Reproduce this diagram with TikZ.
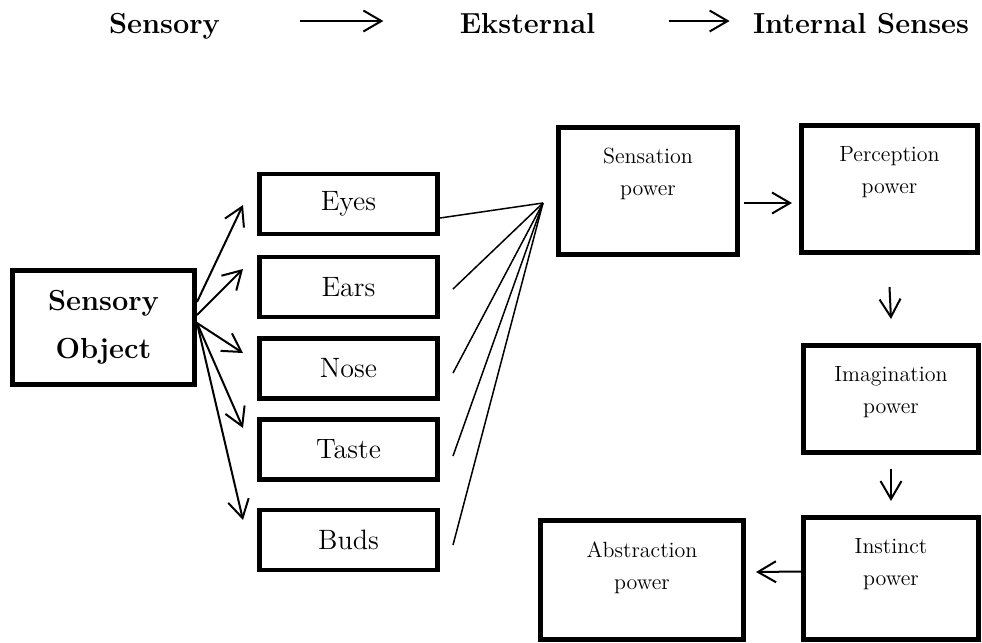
\documentclass[tikz,border=0pt]{standalone}
\usepackage{tikz}
\usetikzlibrary{arrows.meta,positioning}

\begin{document}
\begin{tikzpicture}[x=0.5pt, y=-0.5pt,
    hdr/.style={font=\fontsize{14.5}{17}\selectfont\bfseries, inner sep=0pt, anchor=base},
    objbox/.style={draw, line width=2.3pt, align=center, inner sep=0pt,
      font=\fontsize{14.5}{24}\selectfont\bfseries},
    sensebox/.style={draw, line width=2.3pt, inner sep=0pt, minimum width=89.2pt,
      minimum height=30pt, font=\fontsize{14}{17}\selectfont},
    powerbox/.style={draw, line width=2.3pt, inner sep=0pt},
    powertext/.style={align=center, inner sep=0pt, font=\fontsize{11}{16}\selectfont},
    arr/.style={line width=1pt, -{Straight Barb[length=9pt,width=10.5pt]}},
    fan/.style={line width=0.75pt},
  ]
    \useasboundingbox (0,0) rectangle (982,643);

    \node[hdr] (hsens) at (164.5,33) {Sensory};
    \node[hdr] (heks) at (527.5,33) {Eksternal};
    \node[hdr] (hint) at (861,33) {Internal Senses};
    \draw[arr] ([xshift=40pt,yshift=6pt]hsens.base east) -- ([xshift=-38pt,yshift=6pt]heks.base west);
    \draw[arr] ([xshift=36.5pt,yshift=6pt]heks.base east) -- ([xshift=-11.5pt,yshift=6pt]hint.base west);

    \node[objbox, minimum width=91.2pt, minimum height=57.2pt] (obj) at (103.5,327.5) {Sensory\\Object};

    \node[sensebox] (eyes) at (348.5,204) {Eyes};
    \node[sensebox] (ears) at (348.5,287) {Ears};
    \node[sensebox] (nose) at (348.5,368.5) {Nose};
    \node[sensebox] (taste) at (348.5,449.5) {Taste};
    \node[sensebox] (buds) at (348.5,540) {Buds};

    \draw[arr] ([shift={(0,-25.5)}]obj.east) -- ([shift={(-14,1)}]eyes.west);
    \draw[arr] ([shift={(0,-12.5)}]obj.east) -- ([shift={(-14,-18)}]ears.west);
    \draw[arr] ([shift={(0,-4.5)}]obj.east) -- ([shift={(-14,-15.5)}]nose.west);
    \draw[arr] ([shift={(0,-4.5)}]obj.east) -- ([shift={(-14,-21.5)}]taste.west);
    \draw[arr] ([shift={(0,-4.5)}]obj.east) -- ([shift={(-14,-20)}]buds.west);

    \coordinate (hub) at (543,203);
    \draw[fan] ([shift={(0,14)}]eyes.east) -- (hub);
    \draw[fan] ([shift={(13,2)}]ears.east) -- (hub);
    \draw[fan] ([shift={(13,4.5)}]nose.east) -- (hub);
    \draw[fan] ([shift={(13,6.5)}]taste.east) -- (hub);
    \draw[fan] ([shift={(13,5)}]buds.east) -- (hub);

    \node[powerbox, minimum width=89.7pt, minimum height=63.7pt] (sens) at (648,191) {};
    \node[powertext, below=11.5pt of sens.north] (senstxt) {Sensation\\power};
    \node[powerbox, minimum width=88.2pt, minimum height=63.7pt] (perc) at (889.5,189) {};
    \node[powertext, below=11.5pt of perc.north] (perctxt) {Perception\\power};
    \node[powerbox, minimum width=87.7pt, minimum height=53.7pt] (imag) at (891,399) {};
    \node[powertext, below=11.5pt of imag.north] (imagtxt) {Imagination\\power};
    \node[powerbox, minimum width=87.7pt, minimum height=61.2pt] (inst) at (891,578.5) {};
    \node[powertext, below=11.5pt of inst.north] (insttxt) {Instinct\\power};
    \node[powerbox, minimum width=101.7pt, minimum height=59.7pt] (abst) at (642,580) {};
    \node[powertext, below=11.5pt of abst.north] (absttxt) {Abstraction\\power};

    \draw[arr] ([shift={(4,12)}]sens.east) -- ([shift={(-7,14)}]perc.west);
    \draw[arr] ([shift={(0,32)}]perc.south) -- ([shift={(0,-24)}]imag.north);
    \draw[arr] ([shift={(0,14)}]imag.south) -- ([shift={(0,-14)}]inst.north);
    \draw[arr] ([shift={(0,-7)}]inst.west) -- ([shift={(10,-8)}]abst.east);
\end{tikzpicture}
\end{document}
